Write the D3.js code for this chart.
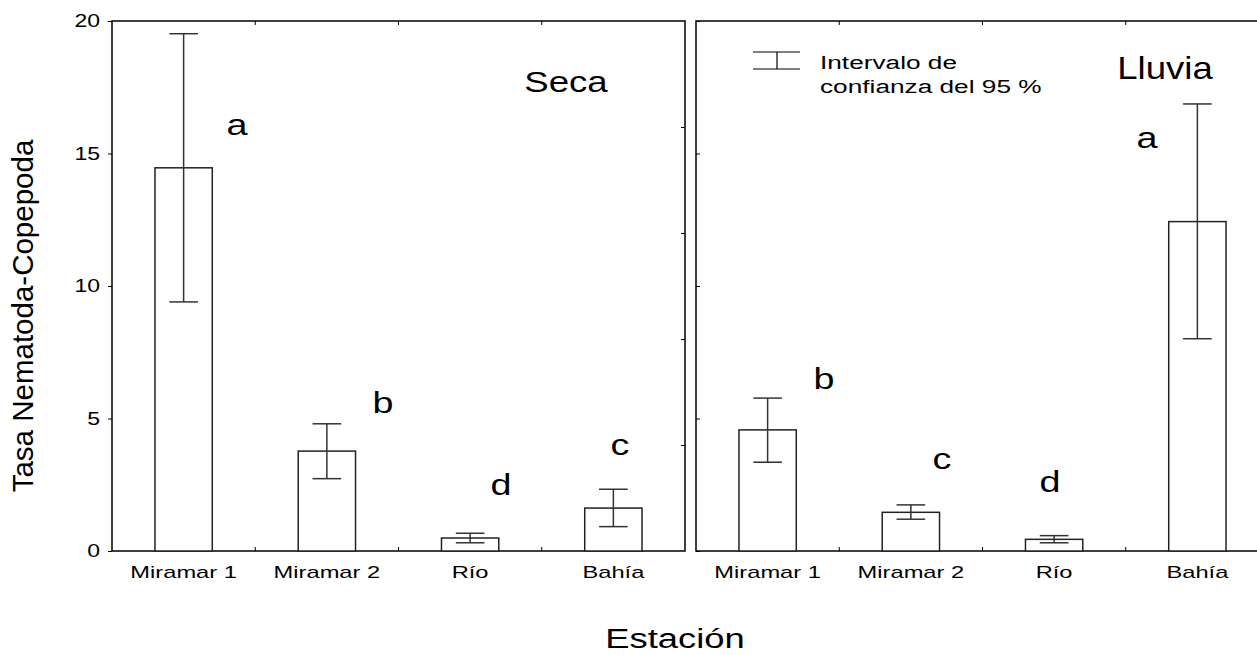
<!doctype html>
<html lang="es">
<head>
  <meta charset="UTF-8">
  <title>Tasa Nematoda-Copepoda</title>
  <style>
    body { margin: 0; background: #fff; }
    text { font-family: "Liberation Sans", Arial, sans-serif; fill: #000; }
  </style>
</head>
<body>
<div class="container"></div>

<script src="https://d3js.org/d3.v7.min.js"></script>

<script>
  // ---- data ----
  const categories = ['Miramar 1', 'Miramar 2', 'Río', 'Bahía'];
  const secaMean = [14.46, 3.77, 0.49, 1.62];
  const secaLow = [9.40, 2.73, 0.31, 0.92];
  const secaHigh = [19.52, 4.80, 0.67, 2.33];
  const secaLetters = ['a', 'b', 'd', 'c'];
  const lluviaMean = [4.57, 1.46, 0.44, 12.43];
  const lluviaLow = [3.35, 1.20, 0.31, 8.01];
  const lluviaHigh = [5.77, 1.74, 0.58, 16.87];
  const lluviaLetters = ['b', 'c', 'd', 'a'];
  const yTicks = [0, 5, 10, 15, 20];
  const yTicksRight = [4, 8, 12, 16];

  const W = 1257, H = 655;
  const TOP = 21, BOTTOM = 551;

  const svg = d3.select('.container').append('svg')
    .attr('width', W)
    .attr('height', H);

  const y = d3.scaleLinear().domain([0, 20]).range([BOTTOM, TOP]);

  // stretched text helper (reference glyphs are wide)
  function txt(parent, s, x, yy, size, sx, anchor) {
    return parent.append('text')
      .attr('transform', `translate(${x},${yy}) scale(${sx},1)`)
      .attr('text-anchor', anchor || 'middle')
      .style('font-size', size + 'px')
      .text(s);
  }

  const panels = [
    { name: 'Seca', x0: 112, x1: 685, mean: secaMean, low: secaLow, high: secaHigh, letters: secaLetters,
      letterPos: [[237, 135], [383, 413], [501, 495], [620, 455]], title: [566, 92, 30, 1.22] },
    { name: 'Lluvia', x0: 696, x1: 1269, mean: lluviaMean, low: lluviaLow, high: lluviaHigh, letters: lluviaLetters,
      letterPos: [[824, 389], [942, 469], [1050, 492], [1147, 148]], title: [1165, 79, 31, 1.18] }
  ];

  panels.forEach((p, pi) => {
    const g = svg.append('g');
    const x = d3.scaleBand().domain(categories).range([p.x0, p.x1]).padding(0);
    const bw = x.bandwidth();
    const bounds = categories.slice(1).map(c => x(c));

    // frame
    g.append('rect')
      .attr('x', p.x0).attr('y', TOP)
      .attr('width', p.x1 - p.x0).attr('height', BOTTOM - TOP)
      .attr('fill', 'none').attr('stroke', '#000').attr('stroke-width', 1.5);

    // left axis ticks
    const yl = d3.axisLeft(y).tickValues(yTicks).tickFormat('')
      .tickSizeInner(pi === 0 ? 4 : -4).tickSizeOuter(0);
    g.append('g').attr('transform', `translate(${p.x0},0)`).call(yl)
      .call(a => a.select('.domain').remove())
      .selectAll('line').attr('stroke', '#000');

    // right side ticks on the first panel
    if (pi === 0) {
      const yr = d3.axisRight(y).tickValues(yTicksRight).tickFormat('').tickSizeInner(-4).tickSizeOuter(0);
      g.append('g').attr('transform', `translate(${p.x1},0)`).call(yr)
        .call(a => a.select('.domain').remove())
        .selectAll('line').attr('stroke', '#000');
    }

    // category boundary ticks, bottom and top
    g.selectAll('.bt').data(bounds).join('line')
      .attr('class', 'bt')
      .attr('x1', d => d).attr('x2', d => d)
      .attr('y1', BOTTOM).attr('y2', BOTTOM - 4)
      .attr('stroke', '#000');
    g.selectAll('.tt').data(bounds).join('line')
      .attr('class', 'tt')
      .attr('x1', d => d).attr('x2', d => d)
      .attr('y1', TOP).attr('y2', TOP + 4)
      .attr('stroke', '#000');

    // bars
    g.selectAll('.bar').data(categories).join('rect')
      .attr('class', 'bar')
      .attr('x', d => x(d) + bw * 0.3)
      .attr('width', bw * 0.4)
      .attr('y', (d, i) => y(p.mean[i]))
      .attr('height', (d, i) => BOTTOM - y(p.mean[i]))
      .attr('fill', '#fff').attr('stroke', '#222').attr('stroke-width', 1.5);

    // error bars
    const eb = g.selectAll('.eb').data(categories).join('g').attr('class', 'eb')
      .attr('stroke', '#333').attr('stroke-width', 1.5);
    eb.append('line')
      .attr('x1', d => x(d) + bw / 2).attr('x2', d => x(d) + bw / 2)
      .attr('y1', (d, i) => y(p.low[i])).attr('y2', (d, i) => y(p.high[i]));
    eb.append('line')
      .attr('x1', d => x(d) + bw * 0.4).attr('x2', d => x(d) + bw * 0.6)
      .attr('y1', (d, i) => y(p.high[i])).attr('y2', (d, i) => y(p.high[i]));
    eb.append('line')
      .attr('x1', d => x(d) + bw * 0.4).attr('x2', d => x(d) + bw * 0.6)
      .attr('y1', (d, i) => y(p.low[i])).attr('y2', (d, i) => y(p.low[i]));

    // category labels
    categories.forEach(c => txt(g, c, x(c) + bw / 2, 578, 16.8, 1.41));

    // significance letters
    p.letters.forEach((l, i) => txt(g, l, p.letterPos[i][0], p.letterPos[i][1], 29, 1.3));

    // panel title
    txt(g, p.name, p.title[0], p.title[1], p.title[2], p.title[3]);
  });

  // y tick labels
  yTicks.forEach(t => txt(svg, t, 100, y(t) + 6.3, 17.7, 1.3, 'end'));

  // y axis title
  svg.append('text')
    .attr('transform', `translate(33,316) rotate(-90)`)
    .attr('text-anchor', 'middle')
    .style('font-size', '29.5px')
    .text('Tasa Nematoda-Copepoda');

  // x axis title
  txt(svg, 'Estación', 675, 648, 28, 1.3);

  // legend
  const lg = svg.append('g').attr('stroke', '#000').attr('stroke-width', 1.2);
  lg.append('line').attr('x1', 753).attr('x2', 800).attr('y1', 52).attr('y2', 52);
  lg.append('line').attr('x1', 753).attr('x2', 800).attr('y1', 69).attr('y2', 69);
  lg.append('line').attr('x1', 777).attr('x2', 777).attr('y1', 52).attr('y2', 69);
  txt(svg, 'Intervalo de', 820, 69.3, 17.6, 1.49, 'start');
  txt(svg, 'confianza del 95 %', 820, 93.3, 17.6, 1.49, 'start');
</script>
</body>
</html>
